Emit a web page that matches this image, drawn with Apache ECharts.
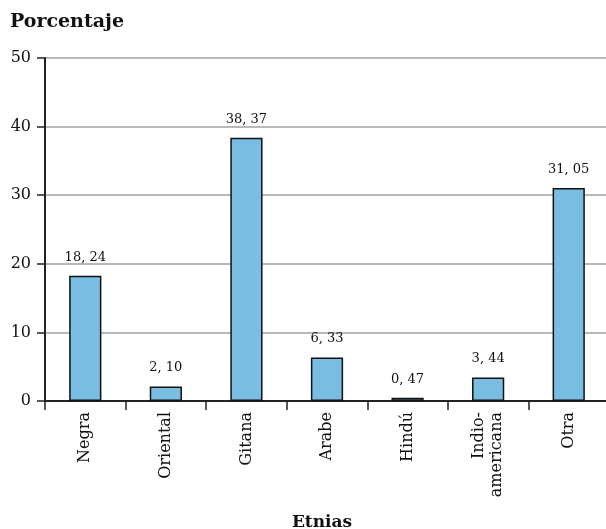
<!DOCTYPE html>
<html>
<head>
<meta charset="utf-8">
<script src="https://cdn.jsdelivr.net/npm/echarts@6/dist/echarts.min.js"></script>
<style>html,body{margin:0;padding:0;background:#fff}#c{width:606px;height:529px}</style>
</head>
<body>
<div id="c"></div>
<script>
var categories = ['Negra', 'Oriental', 'Gitana', 'Arabe', 'Hindú', 'Indio-\namericana', 'Otra'];
var values = [18.24, 2.10, 38.37, 6.33, 0.47, 3.44, 31.05];
var yTicks = [0, 10, 20, 30, 40, 50];

var FONT = 'DejaVu Serif';
var chart = echarts.init(document.getElementById('c'));
chart.setOption({
  animation: false,
  title: {
    text: 'Porcentaje', left: 5, top: 8,
    textStyle: { fontFamily: FONT, fontWeight: 'bold', fontSize: 19, color: '#111' }
  },
  grid: { left: 45, top: 58, bottom: 128, right: -3, containLabel: false, outerBoundsMode: 'none' },
  xAxis: {
    type: 'category', data: categories,
    name: 'Etnias', nameLocation: 'middle', nameGap: 113,
    nameTextStyle: { fontFamily: FONT, fontWeight: 'bold', fontSize: 17, color: '#111', padding: [0, 10, 0, 0] },
    axisLine: { lineStyle: { color: '#222', width: 2 } },
    axisTick: { show: true, alignWithLabel: false, length: 9, lineStyle: { color: '#222', width: 1.5 } },
    axisLabel: { rotate: 90, interval: 0, margin: 11, fontFamily: FONT, fontSize: 16, color: '#111', lineHeight: 18 }
  },
  yAxis: {
    type: 'value', min: yTicks[0], max: yTicks[yTicks.length - 1], interval: 10,
    axisLine: { show: true, lineStyle: { color: '#222', width: 2 } },
    axisTick: { show: true, length: 8, lineStyle: { color: '#222', width: 1.5 } },
    axisLabel: { margin: 14, fontFamily: FONT, fontSize: 16, color: '#111' },
    splitLine: { lineStyle: { color: '#a0a0a0', width: 1.5 } }
  },
  series: [{
    type: 'bar', data: values, barWidth: '40%',
    itemStyle: { color: '#79bde3', borderColor: '#111', borderWidth: 1.5 },
    label: {
      show: true, position: 'top', distance: 12,
      fontFamily: FONT, fontSize: 13, color: '#111',
      formatter: function (p) { return p.value.toFixed(2).replace('.', ', '); }
    }
  }]
});
</script>
</body>
</html>
